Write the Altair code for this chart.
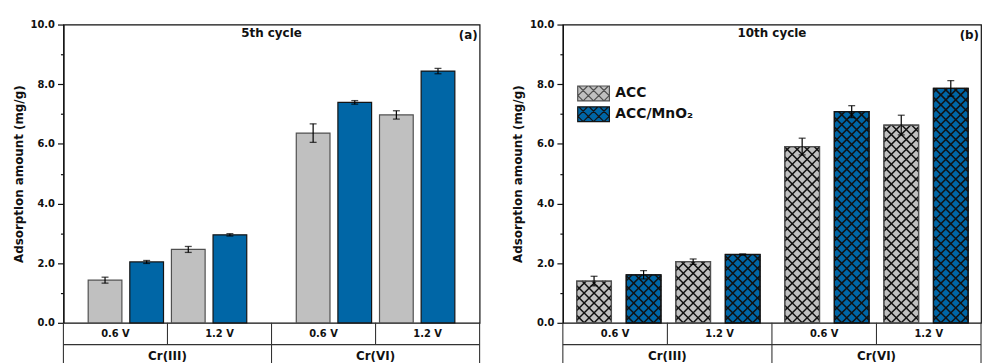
import altair as alt
import pandas as pd

# Adsorption amounts (mg/g) with error bars, per ion / applied voltage / electrode
ions = ["Cr(III)", "Cr(III)", "Cr(III)", "Cr(III)", "Cr(VI)", "Cr(VI)", "Cr(VI)", "Cr(VI)"]
voltages = ["0.6 V", "0.6 V", "1.2 V", "1.2 V", "0.6 V", "0.6 V", "1.2 V", "1.2 V"]
materials = ["ACC", "ACC/MnO₂", "ACC", "ACC/MnO₂", "ACC", "ACC/MnO₂", "ACC", "ACC/MnO₂"]

cycle5_mean = [1.43, 2.04, 2.46, 2.95, 6.36, 7.39, 6.97, 8.44]
cycle5_err = [0.10, 0.05, 0.10, 0.04, 0.31, 0.06, 0.14, 0.09]
cycle10_mean = [1.40, 1.61, 2.05, 2.29, 5.91, 7.08, 6.63, 7.86]
cycle10_err = [0.16, 0.14, 0.09, 0.02, 0.28, 0.20, 0.33, 0.26]

material_names = ["ACC", "ACC/MnO₂"]
y_tick_values = [0, 1, 2, 3, 4, 5, 6, 7, 8, 9, 10]

# ---- style / layout ----
FONT = "DejaVu Sans"
INK = "#111111"
FILLS = ["#c0c0c0", "#0066a6"]
EDGES = ["#505050", "#141414"]
PLOT_H = 301
Y_DOMAIN = [0, 10]
PX_PER_UNIT = PLOT_H / (Y_DOMAIN[1] - Y_DOMAIN[0])
ROW1 = -22 / PX_PER_UNIT        # bottom of the voltage row
ROW2 = -60 / PX_PER_UNIT        # bottom of the ion row (runs past the page)
HATCH_STEP = 10                 # px between hatch lines


def swatch_path(half_w=1.6, half_h=0.75, step=1.05):
    """Rectangle with a diagonal cross-hatch, in legend symbol units."""
    w, h = 2 * half_w, 2 * half_h
    parts = [f"M{-half_w},{-half_h}H{half_w}V{half_h}H{-half_w}Z"]
    for k in range(-12, 13):
        c = w / 2 + step * k
        if -h < c < w:
            us, ue = max(0.0, c), min(w, c + h)
            parts.append(f"M{us - half_w:.3f},{half_h - (us - c):.3f}"
                         f"L{ue - half_w:.3f},{half_h - (ue - c):.3f}")
        if 0 < c < w + h:
            us, ue = max(0.0, c - h), min(w, c)
            parts.append(f"M{us - half_w:.3f},{half_h - (c - us):.3f}"
                         f"L{ue - half_w:.3f},{half_h - (c - ue):.3f}")
    return "".join(parts)


def panel(means, errs, width, domain, group_gap, half_width, cycle_label, tag, hatched):
    px_x = width / (domain[1] - domain[0])
    df = pd.DataFrame({"ion": ions, "voltage": voltages, "material": materials,
                       "mean": means, "err": errs})

    xs = alt.Scale(domain=list(domain), nice=False, zero=False)
    ys = alt.Scale(domain=Y_DOMAIN, nice=False, zero=False)
    y_axis = alt.Axis(
        values=y_tick_values,
        labelExpr="datum.value % 2 ? '' : format(datum.value, '.1f')",
        title="Adsorption amount (mg/g)",
        tickSize={"condition": {"test": "datum.value % 2", "value": 3}, "value": 6},
        grid=False,
    )

    def X(field):
        return alt.X(field, type="quantitative", scale=xs, axis=None)

    def Y(field):
        return alt.Y(field, type="quantitative", scale=ys, axis=y_axis)

    base = alt.Chart(df).transform_calculate(
        pos=(f"(datum.ion === 'Cr(VI)' ? {group_gap} : 0)"
             f" + (datum.voltage === '1.2 V' ? 2 : 0)"
             f" + (datum.material === 'ACC' ? 0 : 1)")
    ).transform_calculate(
        left=f"datum.pos - {half_width}",
        right=f"datum.pos + {half_width}",
        lo="datum.mean - datum.err",
        hi="datum.mean + datum.err",
    )

    fill = alt.Fill("material:N", scale=alt.Scale(domain=material_names, range=FILLS),
                    legend=None)
    if hatched:
        fill = alt.Fill(
            "material:N", scale=alt.Scale(domain=material_names, range=FILLS),
            legend=alt.Legend(
                orient="none", legendX=20, legendY=58.5, title=None, padding=0,
                symbolType=swatch_path(), symbolSize=400,
                symbolStrokeColor=INK, symbolStrokeWidth=1.2, symbolOpacity=1,
                labelFont=FONT, labelFontSize=14, labelFontWeight="bold",
                labelColor=INK, labelOffset=11, rowPadding=0,
            ),
        )
    stroke = alt.Stroke("material:N", scale=alt.Scale(domain=material_names, range=EDGES),
                        legend=None)

    bars = base.mark_rect(strokeWidth=1.2).encode(
        x=X("left"), x2="right:Q",
        y=Y("mean"), y2=alt.datum(0),
        fill=fill, stroke=stroke,
    )
    layers = [bars]

    if hatched:
        hw_px = 2 * half_width * px_x
        hatch = base.transform_calculate(
            W=f"{hw_px}",
            H=f"datum.mean * {PX_PER_UNIT}",
            k="sequence(0, 61)",
        ).transform_flatten(["k"]).transform_calculate(
            fam="[0, 1]"
        ).transform_flatten(["fam"]).transform_calculate(
            c=f"datum.W / 2 + {HATCH_STEP} * (datum.k - 30)"
        ).transform_filter(
            "datum.fam === 0 ? (datum.c < datum.W && datum.c > -datum.H)"
            " : (datum.c > 0 && datum.c < datum.W + datum.H)"
        ).transform_calculate(
            us="datum.fam === 0 ? max(0, datum.c) : max(0, datum.c - datum.H)",
            ue="datum.fam === 0 ? min(datum.W, datum.c + datum.H) : min(datum.W, datum.c)",
        ).transform_calculate(
            ws="datum.fam === 0 ? datum.us - datum.c : datum.c - datum.us",
            we="datum.fam === 0 ? datum.ue - datum.c : datum.c - datum.ue",
        ).transform_calculate(
            hx=f"datum.left + datum.us / {px_x}",
            hx2=f"datum.left + datum.ue / {px_x}",
            hy=f"datum.ws / {PX_PER_UNIT}",
            hy2=f"datum.we / {PX_PER_UNIT}",
        ).mark_rule(color=INK, strokeWidth=1.5).encode(
            x=X("hx"), x2="hx2:Q",
            y=Y("hy"), y2="hy2:Q",
        )
        outline = base.mark_rect(fillOpacity=0, strokeWidth=1.3).encode(
            x=X("left"), x2="right:Q",
            y=Y("mean"), y2=alt.datum(0),
            stroke=stroke,
        )
        layers += [hatch, outline]

    err_rule = base.mark_rule(color="#000000", strokeWidth=1.2).encode(
        x=X("pos"), y=Y("lo"), y2="hi:Q",
    )
    cap_lo = base.mark_tick(orient="horizontal", size=7, thickness=1.3, color="#000000").encode(
        x=X("pos"), y=Y("lo"),
    )
    cap_hi = base.mark_tick(orient="horizontal", size=7, thickness=1.3, color="#000000").encode(
        x=X("pos"), y=Y("hi"),
    )
    layers += [err_rule, cap_lo, cap_hi]

    # category table under the axis: voltage row, then ion row
    d0, d1 = domain
    cell = (d1 - d0) / 4
    pairs = list(dict.fromkeys(zip(ions, voltages)))
    ion_names = list(dict.fromkeys(ions))
    rule_rows = []
    for i in range(1, 4):
        bottom = ROW2 if i == 2 else ROW1
        rule_rows.append({"x": d0 + i * cell, "x2": d0 + i * cell, "y": 0, "y2": bottom})
    rule_rows.append({"x": d0, "x2": d0, "y": 0, "y2": ROW2})
    rule_rows.append({"x": d1, "x2": d1, "y": 0, "y2": ROW2})
    rule_rows.append({"x": d0, "x2": d1, "y": ROW1, "y2": ROW1})
    table_rules = alt.Chart(pd.DataFrame(rule_rows)).mark_rule(color="#333333", strokeWidth=1.1).encode(
        x=X("x"), x2="x2:Q", y=Y("y"), y2="y2:Q",
    )
    text_rows = [{"label": v, "x": d0 + (i + 0.5) * cell, "y": ROW1 / 2, "fs": 10}
                 for i, (_, v) in enumerate(pairs)]
    text_rows += [{"label": ion, "x": d0 + (2 * j + 1) * cell, "y": -33.5 / PX_PER_UNIT, "fs": 12}
                  for j, ion in enumerate(ion_names)]
    text_rows += [{"label": cycle_label, "x": (d0 + d1) / 2, "y": 9.71, "fs": 12}]
    table_text = alt.Chart(pd.DataFrame(text_rows)).mark_text(
        font=FONT, fontWeight="bold", color=INK, baseline="middle", align="center"
    ).encode(
        x=X("x"), y=Y("y"),
        text="label:N",
        size=alt.Size("fs:Q", scale=None, legend=None),
    )
    tag_text = alt.Chart(pd.DataFrame({"label": [tag], "x": [d1 - 2 / px_x], "y": [9.66]})).mark_text(
        font=FONT, fontWeight="bold", fontSize=12, color=INK, baseline="middle", align="right"
    ).encode(
        x=X("x"), y=Y("y"), text="label:N",
    )
    layers += [table_rules, table_text, tag_text]

    return alt.layer(*layers).properties(width=width, height=PLOT_H)


left = panel(cycle5_mean, cycle5_err, 420, (-1.0, 9.0), 5, 0.405, "5th cycle", "(a)", False)
right = panel(cycle10_mean, cycle10_err, 422, (-0.63, 7.81), 4.2, 0.35, "10th cycle", "(b)", True)

chart = alt.hconcat(left, right, spacing=29).resolve_scale(
    fill="independent", stroke="independent"
).properties(
    padding={"left": 11, "top": 17, "right": 0, "bottom": 0},
    background="white",
).configure_view(
    stroke=INK, strokeWidth=1.2
).configure_axis(
    domainColor=INK, domainWidth=1.3, tickColor=INK, tickWidth=1.2,
    labelFont=FONT, labelFontSize=10, labelFontWeight="bold", labelColor=INK,
    labelPadding=3, titleFont=FONT, titleFontSize=12, titleFontWeight="bold",
    titleColor=INK, titlePadding=5,
)

chart.save("out.html", embed_options={"renderer": "svg", "actions": False})
